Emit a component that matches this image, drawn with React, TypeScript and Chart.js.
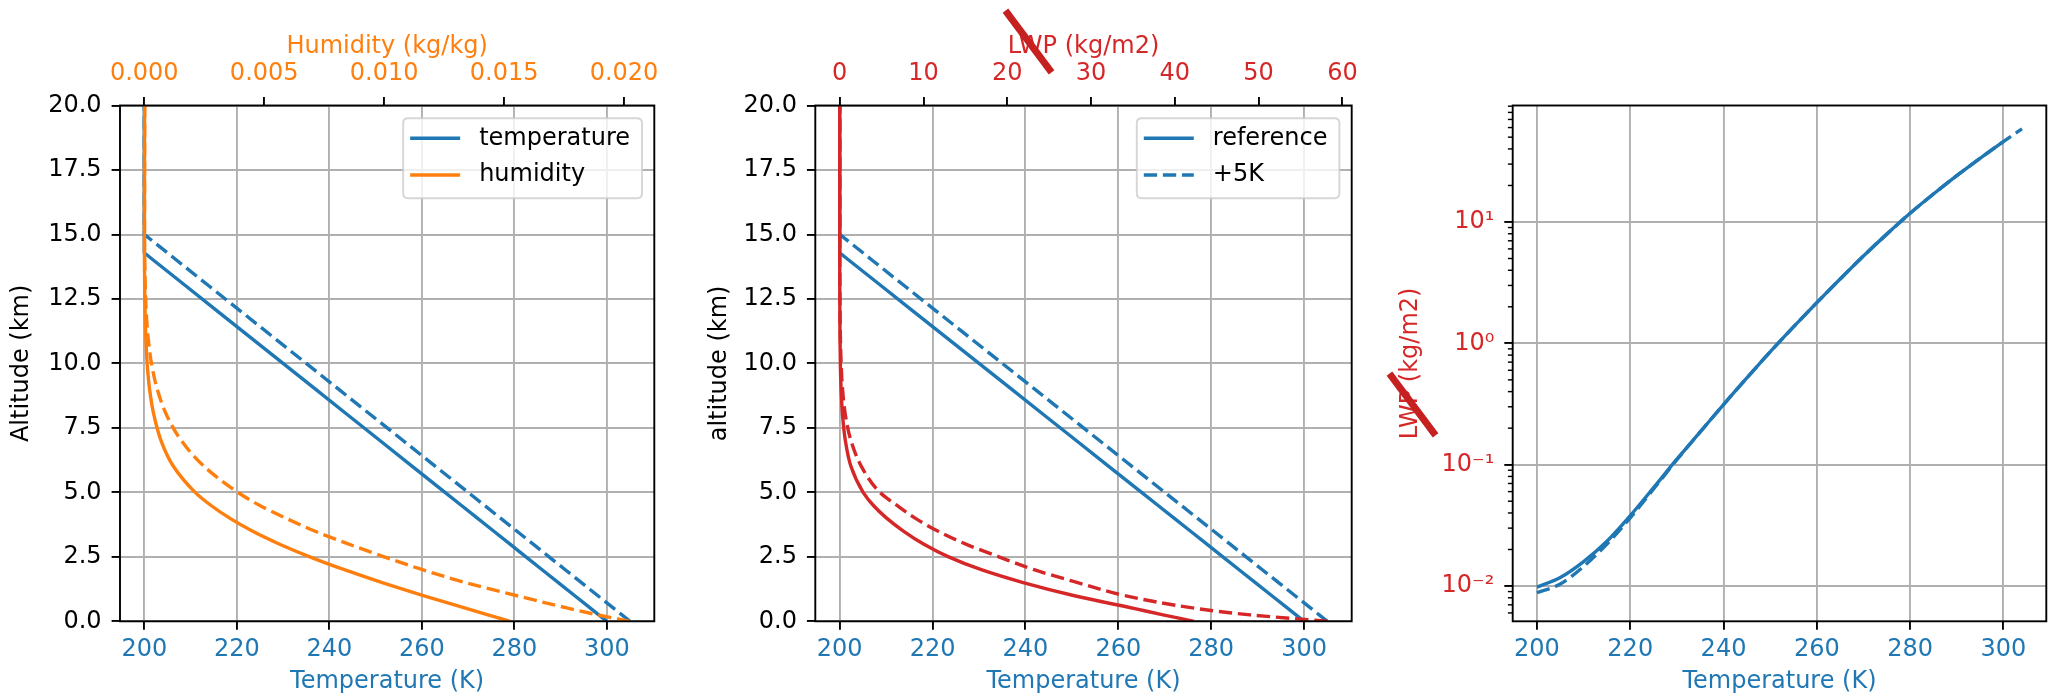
import React, { useEffect, useRef } from 'react';
import { Chart, registerables } from 'chart.js';

Chart.register(...registerables);

// ------------------------------------------------------------------ data
const altitudeKm = [0, 0.25, 0.5, 1, 1.5, 2, 2.5, 3, 3.5, 4, 4.5, 5, 6, 7, 8, 9, 10, 11, 12, 13, 14, 14.29, 15, 16, 17, 18, 19, 20];
const temperatureRef = [300, 298.25, 296.5, 293, 289.5, 286, 282.5, 279, 275.5, 272, 268.5, 265, 258, 251, 244, 237, 230, 223, 216, 209, 202, 200, 200, 200, 200, 200, 200, 200];
const temperatureWarm = [305, 303.25, 301.5, 298, 294.5, 291, 287.5, 284, 280.5, 277, 273.5, 270, 263, 256, 249, 242, 235, 228, 221, 214, 207, 205, 200, 200, 200, 200, 200, 200];
const humidityRef = [0.01525, 0.01433, 0.01342, 0.01163, 0.00992, 0.00834, 0.0069, 0.00562, 0.0045, 0.00356, 0.00277, 0.00212, 0.00122, 0.0007, 0.0004, 0.00022, 0.00012, 0.000064, 0.000033, 0.000016, 0.0000075, 0.0000055, 0.000006, 0.000007, 0.000008, 0.000009, 0.000011, 0.000013];
const humidityWarm = [0.02025, 0.0189, 0.0177, 0.0155, 0.0134, 0.0116, 0.01, 0.0085, 0.0071, 0.0059, 0.0048, 0.0039, 0.0025, 0.00155, 0.00093, 0.00054, 0.0003, 0.00016, 0.00008, 0.00004, 0.000019, 0.000015, 0.000009, 0.00001, 0.000011, 0.000013, 0.000015, 0.000017];
const lwpRef = [42.3, 38.6, 35.1, 27.9, 21.9, 16.9, 13.0, 10.0, 7.6, 5.6, 4.0, 2.8, 1.35, 0.68, 0.34, 0.17, 0.08, 0.04, 0.022, 0.014, 0.01, 0.0098, 0.0085, 0.0065, 0.005, 0.0035, 0.0018, 0];
const lwpWarm = [58.2, 49.0, 42.5, 34.0, 28.4, 23.2, 19.0, 15.0, 11.7, 9.0, 6.8, 4.8, 2.6, 1.35, 0.68, 0.34, 0.17, 0.085, 0.043, 0.022, 0.013, 0.011, 0.0087, 0.0065, 0.005, 0.0035, 0.0018, 0];

const lwpTempRef = [200, 205, 210, 215, 220, 225, 230, 235, 240, 245, 250, 255, 260, 265, 270, 275, 280, 285, 290, 295, 300];
const lwpRefVsT = [0.0098, 0.01175, 0.0159, 0.0234, 0.038, 0.0646, 0.111, 0.186, 0.313, 0.519, 0.851, 1.365, 2.163, 3.388, 5.248, 7.943, 11.8, 17.0, 24.1, 33.5, 46.0];
const lwpTempWarm = [200, 205, 210, 215, 220, 225, 230, 235, 240, 245, 250, 255, 260, 265, 270, 275, 280, 285, 290, 295, 300, 302, 304];
const lwpWarmVsT = [0.0088, 0.0104, 0.0145, 0.0222, 0.0365, 0.063, 0.11, 0.186, 0.313, 0.519, 0.851, 1.365, 2.163, 3.388, 5.248, 7.943, 11.8, 17.0, 24.1, 33.5, 46.0, 52.0, 58.5];

const temperatureTicks = [200, 220, 240, 260, 280, 300];
const altitudeTicks = [0, 2.5, 5, 7.5, 10, 12.5, 15, 17.5, 20];
const humidityTicks = [0, 0.005, 0.01, 0.015, 0.02];
const lwpTicks = [0, 10, 20, 30, 40, 50, 60];
const logMajorTicks = [0.01, 0.1, 1, 10];
const logTickLabels = ['10⁻²', '10⁻¹', '10⁰', '10¹'];

// axis ranges
const TEMP_MIN = 194.75, TEMP_MAX = 310.25;
const TEMP3_MIN = 194.8, TEMP3_MAX = 309.2;
const HUM_MIN = -0.0010125, HUM_MAX = 0.0212625;
const LWP_MIN = -2.91, LWP_MAX = 61.11;
const ALT_MIN = 0, ALT_MAX = 20;
const LOG_MIN = 0.00512, LOG_MAX = 91.2;

// ------------------------------------------------------------------ style
const BLUE = '#1f77b4', ORANGE = '#ff7f0e', RED = '#d62728', GRID = '#b0b0b0';
const FAMILY = "'DejaVu Sans', sans-serif";
const FS = 24;
const FONT = { family: FAMILY, size: FS, lineHeight: 1.2 };
const LW = 3.4;
const DASH = [13.3, 5.8];
const SPINE = 1.9;
const TICK_LEN = 8.4;
const PAGE_W = 2053;
const PAGE_H = 697;
const PLOT_TOP = 105.5;
const PLOT_BOTTOM = 621.3;

type Geom = { left: number; width: number; plotLeft: number; plotRight: number; yTitlePad: number };
const GEOM: Geom[] = [
  { left: 0, width: 690, plotLeft: 120, plotRight: 654.3, yTitlePad: 7 },
  { left: 690, width: 690, plotLeft: 815.3, plotRight: 1351.7, yTitlePad: 15.6 },
  { left: 1380, width: 673, plotLeft: 1512.7, plotRight: 2046.3, yTitlePad: 16.6 },
];

const SLASHES = [
  { cx: 1028, cy: 41.3, len: 77, angle: 53.2 },
  { cx: 1412, cy: 404.3, len: 77, angle: 53.2 },
];

const pairs = (xs: number[], ys: number[]) => xs.map((x, i) => ({ x, y: ys[i] }));
const isMajor = (v: number) => logMajorTicks.some((t) => Math.abs(v / t - 1) < 1e-6);
const logAllTicks = (min: number, max: number) => {
  const out: number[] = [];
  for (let e = -3; e <= 2; e++) {
    for (let m = 1; m <= 9; m++) {
      const v = m * Math.pow(10, e);
      if (v >= min && v <= max) out.push(v);
    }
  }
  return out;
};

type LegendItem = { label: string; color: string; dash: number[] };

function makePlugin(legend: LegendItem[] | null, minorAxis: string | null) {
  return {
    id: 'mplStyle',
    afterDatasetsDraw(chart: any) {
      const { ctx, chartArea: a } = chart;
      ctx.save();
      if (minorAxis) {
        const s = chart.scales[minorAxis];
        ctx.strokeStyle = '#000';
        ctx.lineWidth = 1.44;
        for (const t of s.ticks) {
          if (isMajor(t.value)) continue;
          const y = s.getPixelForValue(t.value);
          ctx.beginPath();
          ctx.moveTo(a.left, y);
          ctx.lineTo(a.left - 4.8, y);
          ctx.stroke();
        }
      }
      ctx.strokeStyle = '#000';
      ctx.lineWidth = SPINE;
      ctx.setLineDash([]);
      ctx.strokeRect(a.left, a.top, a.right - a.left, a.bottom - a.top);
      ctx.restore();
    },
    afterDraw(chart: any) {
      if (!legend) return;
      const { ctx, chartArea: a } = chart;
      ctx.save();
      ctx.font = `${FS}px ${FAMILY}`;
      const textW = Math.max(...legend.map((it) => ctx.measureText(it.label).width));
      const padL = 7, handle = 50, gap = 19, padR = 12;
      const w = padL + handle + gap + textW + padR;
      const h = 80;
      const right = a.right - 12.3;
      const top = a.top + 12.8;
      const left = right - w;
      const r = 5;
      ctx.beginPath();
      ctx.moveTo(left + r, top);
      ctx.lineTo(right - r, top);
      ctx.quadraticCurveTo(right, top, right, top + r);
      ctx.lineTo(right, top + h - r);
      ctx.quadraticCurveTo(right, top + h, right - r, top + h);
      ctx.lineTo(left + r, top + h);
      ctx.quadraticCurveTo(left, top + h, left, top + h - r);
      ctx.lineTo(left, top + r);
      ctx.quadraticCurveTo(left, top, left + r, top);
      ctx.closePath();
      ctx.fillStyle = 'rgba(255,255,255,0.8)';
      ctx.fill();
      ctx.strokeStyle = 'rgba(204,204,204,0.8)';
      ctx.lineWidth = 1.9;
      ctx.stroke();
      legend.forEach((it, i) => {
        const y = top + 20 + i * 36.7;
        ctx.beginPath();
        ctx.setLineDash(it.dash);
        ctx.strokeStyle = it.color;
        ctx.lineWidth = LW;
        ctx.moveTo(left + padL, y);
        ctx.lineTo(left + padL + handle, y);
        ctx.stroke();
        ctx.setLineDash([]);
        ctx.fillStyle = '#000';
        ctx.textBaseline = 'middle';
        ctx.textAlign = 'left';
        ctx.fillText(it.label, left + padL + handle + gap, y);
      });
      ctx.restore();
    },
  };
}

const gridOpts = { color: GRID, lineWidth: 1.9, tickColor: '#000', tickWidth: SPINE, tickLength: TICK_LEN };

function bottomTempAxis(min: number, max: number) {
  return {
    type: 'linear', position: 'bottom', min, max, bounds: 'data',
    afterBuildTicks: (s: any) => { s.ticks = temperatureTicks.map((v) => ({ value: v })); },
    afterFit: (s: any) => { s.height = PAGE_H - PLOT_BOTTOM; },
    grid: gridOpts,
    border: { display: false },
    ticks: { color: BLUE, font: FONT, padding: 5.6, autoSkip: false, maxRotation: 0, callback: (v: any) => String(v) },
    title: { display: true, text: 'Temperature (K)', color: BLUE, font: FONT, padding: { top: 0, bottom: 0.6 } },
  };
}

function altitudeAxis(g: Geom, text: string) {
  return {
    type: 'linear', position: 'left', min: ALT_MIN, max: ALT_MAX, bounds: 'data',
    afterBuildTicks: (s: any) => { s.ticks = altitudeTicks.map((v) => ({ value: v })); },
    afterFit: (s: any) => { s.width = g.plotLeft - g.left; },
    grid: gridOpts,
    border: { display: false },
    ticks: { color: '#000', font: FONT, padding: 10, autoSkip: false, callback: (v: any) => Number(v).toFixed(1) },
    title: { display: true, text, color: '#000', font: FONT, padding: { top: g.yTitlePad, bottom: 0 } },
  };
}

function topAxis(min: number, max: number, ticks: number[], color: string, text: string, fmt: (v: number) => string) {
  return {
    type: 'linear', position: 'top', min, max, bounds: 'data',
    afterBuildTicks: (s: any) => { s.ticks = ticks.map((v) => ({ value: v })); },
    afterFit: (s: any) => { s.height = PLOT_TOP; },
    grid: { drawOnChartArea: false, color: '#000', tickColor: '#000', tickWidth: SPINE, tickLength: TICK_LEN, lineWidth: SPINE },
    border: { display: false },
    ticks: { color, font: FONT, padding: 8.7, autoSkip: false, maxRotation: 0, callback: (v: any) => fmt(Number(v)) },
    title: { display: true, text, color, font: FONT, padding: { top: 32.3, bottom: 0 } },
  };
}

function line(data: any[], color: string, dashed: boolean, xAxisID: string, yAxisID: string, smooth: boolean, order: number) {
  return {
    data, xAxisID, yAxisID, order,
    borderColor: color, backgroundColor: color, borderWidth: LW,
    borderDash: dashed ? DASH : [],
    pointRadius: 0, pointHoverRadius: 0, fill: false,
    tension: 0,
    cubicInterpolationMode: smooth ? 'monotone' : 'default',
  };
}

function commonOptions(g: Geom, padTop: number) {
  return {
    responsive: false, maintainAspectRatio: false, animation: false, devicePixelRatio: 1, events: [],
    layout: { padding: { left: 0, right: g.left + g.width - g.plotRight, top: padTop, bottom: 0 } },
    plugins: { legend: { display: false }, tooltip: { enabled: false } },
  };
}

function profileConfig(g: Geom, top: any, yTitle: string, secondary: number[][], secColor: string, legend: LegendItem[]) {
  return {
    type: 'line',
    data: {
      datasets: [
        line(pairs(secondary[1], altitudeKm), secColor, true, 'xTop', 'y', true, 0),
        line(pairs(secondary[0], altitudeKm), secColor, false, 'xTop', 'y', true, 1),
        line(pairs(temperatureWarm, altitudeKm), BLUE, true, 'x', 'y', false, 2),
        line(pairs(temperatureRef, altitudeKm), BLUE, false, 'x', 'y', false, 3),
      ],
    },
    options: {
      ...commonOptions(g, 0),
      indexAxis: 'y',
      scales: {
        x: bottomTempAxis(TEMP_MIN, TEMP_MAX),
        xTop: top,
        y: altitudeAxis(g, yTitle),
      },
    },
    plugins: [makePlugin(legend, null)],
  };
}

function lwpTempConfig(g: Geom) {
  return {
    type: 'line',
    data: {
      datasets: [
        line(pairs(lwpTempWarm, lwpWarmVsT), BLUE, true, 'x', 'y', true, 0),
        line(pairs(lwpTempRef, lwpRefVsT), BLUE, false, 'x', 'y', true, 1),
      ],
    },
    options: {
      ...commonOptions(g, PLOT_TOP),
      scales: {
        x: bottomTempAxis(TEMP3_MIN, TEMP3_MAX),
        y: {
          type: 'logarithmic', position: 'left', min: LOG_MIN, max: LOG_MAX,
          afterBuildTicks: (s: any) => { s.ticks = logAllTicks(LOG_MIN, LOG_MAX).map((v) => ({ value: v })); },
          afterFit: (s: any) => { s.width = g.plotLeft - g.left; },
          grid: {
            color: (c: any) => (c.tick && isMajor(c.tick.value) ? GRID : 'rgba(0,0,0,0)'),
            tickColor: (c: any) => (c.tick && isMajor(c.tick.value) ? '#000' : 'rgba(0,0,0,0)'),
            lineWidth: 1.9, tickWidth: SPINE, tickLength: TICK_LEN,
          },
          border: { display: false },
          ticks: {
            color: RED, font: FONT, padding: 10, autoSkip: false,
            callback: (v: any) => {
              const i = logMajorTicks.findIndex((t) => Math.abs(Number(v) / t - 1) < 1e-6);
              return i >= 0 ? logTickLabels[i] : '';
            },
          },
          title: { display: true, text: 'LWP (kg/m2)', color: RED, font: FONT, padding: { top: g.yTitlePad, bottom: 0 } },
        },
      },
    },
    plugins: [makePlugin(null, 'y')],
  };
}

export default function App() {
  const r1 = useRef<HTMLCanvasElement>(null);
  const r2 = useRef<HTMLCanvasElement>(null);
  const r3 = useRef<HTMLCanvasElement>(null);
  const refs = [r1, r2, r3];

  useEffect(() => {
    Chart.defaults.font.family = FAMILY;
    const c1 = new Chart(r1.current as any, profileConfig(
      GEOM[0],
      topAxis(HUM_MIN, HUM_MAX, humidityTicks, ORANGE, 'Humidity (kg/kg)', (v) => v.toFixed(3)),
      'Altitude (km)',
      [humidityRef, humidityWarm],
      ORANGE,
      [
        { label: 'temperature', color: BLUE, dash: [] },
        { label: 'humidity', color: ORANGE, dash: [] },
      ],
    ) as any);
    const c2 = new Chart(r2.current as any, profileConfig(
      GEOM[1],
      topAxis(LWP_MIN, LWP_MAX, lwpTicks, RED, 'LWP (kg/m2)', (v) => String(v)),
      'altitude (km)',
      [lwpRef, lwpWarm],
      RED,
      [
        { label: 'reference', color: BLUE, dash: [] },
        { label: '+5K', color: BLUE, dash: DASH },
      ],
    ) as any);
    const c3 = new Chart(r3.current as any, lwpTempConfig(GEOM[2]) as any);
    return () => { c1.destroy(); c2.destroy(); c3.destroy(); };
  }, []);

  return (
    <div style={{ position: 'absolute', left: 0, top: 0, width: PAGE_W, height: PAGE_H, background: '#fff', overflow: 'hidden' }}>
      {GEOM.map((g, i) => (
        <canvas
          key={i}
          ref={refs[i]}
          width={g.width}
          height={PAGE_H}
          style={{ position: 'absolute', left: g.left, top: 0, width: g.width, height: PAGE_H }}
        />
      ))}
      {SLASHES.map((s, i) => (
        <div
          key={'s' + i}
          style={{
            position: 'absolute',
            left: s.cx - s.len / 2,
            top: s.cy - 3.5,
            width: s.len,
            height: 7,
            background: '#c62020',
            transform: `rotate(${s.angle}deg)`,
          }}
        />
      ))}
    </div>
  );
}
